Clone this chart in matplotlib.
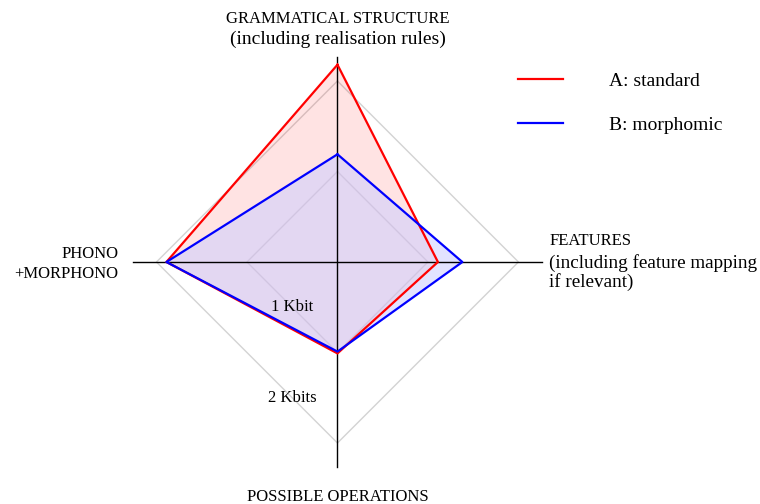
""" radar chart: size of the grammar components, standard vs morphomic """

import matplotlib
matplotlib.use('Agg')
import matplotlib.pyplot as plt

OUT_FN = 'out.png'

## DATA ##
# order: top, right, bottom, left (Kbits)
axes_names = ['grammar', 'features', 'operations', 'phono']
standard = [2.18, 1.11, 1.01, 1.89]
morphomic = [1.19, 1.38, 0.99, 1.89]
grid_levels = [1, 2]
grid_labels = ['1 Kbit', '2 Kbits']
series_labels = ['A: standard', 'B: morphomic']

plt.rcParams['font.family'] = ['Liberation Serif', 'DejaVu Serif']

# direction of each axis (x, y)
DIRS = [(0, 1), (1, 0), (0, -1), (-1, 0)]


def to_xy(vals):
    xs = [d[0] * v for d, v in zip(DIRS, vals)]
    ys = [d[1] * v for d, v in zip(DIRS, vals)]
    return xs + xs[:1], ys + ys[:1]


## PLOT ##
fig = plt.figure(figsize=(7.6, 5.04), dpi=100)
ax = fig.add_axes([0, 0, 1, 1])
ax.set_xlim(-3.729, 4.669)
ax.set_ylim(-2.674, 2.895)
ax.axis('off')

# grid diamonds
for lvl in grid_levels:
    gx, gy = to_xy([lvl] * 4)
    ax.plot(gx, gy, color='#d3d3d3', lw=1, zorder=1)

# axis lines (on top of the fills)
L = 2.26
ax.plot([-L, L], [0, 0], color='black', lw=1, zorder=3.5)
ax.plot([0, 0], [-L, L], color='black', lw=1, zorder=3.5)

# series
fills = [('red', 0.11), ('#ceceff', 0.57)]
for vals, col, fc, lab in [(standard, 'red', fills[0], series_labels[0]),
                           (morphomic, 'blue', fills[1], series_labels[1])]:
    sx, sy = to_xy(vals)
    ax.fill(sx, sy, color=fc[0], alpha=fc[1], lw=0, zorder=3)
    ax.plot(sx, sy, color=col, lw=1.6, label=lab, zorder=4)

# grid labels
ax.text(-0.5, -0.5, grid_labels[0], fontsize=12, ha='center', va='center', zorder=5)
ax.text(-0.5, -1.5, grid_labels[1], fontsize=12, ha='center', va='center', zorder=5)

# axis titles
SC = 12
FS = 14
ax.text(0, 2.69, 'GRAMMATICAL STRUCTURE', fontsize=SC, ha='center', va='center')
ax.text(0, 2.46, '(including realisation rules)', fontsize=FS, ha='center', va='center')
ax.text(2.34, 0.23, 'FEATURES', fontsize=SC, ha='left', va='center')
ax.text(2.34, -0.01, '(including feature mapping', fontsize=13.8, ha='left', va='center')
ax.text(2.34, -0.22, 'if relevant)', fontsize=13.8, ha='left', va='center')
ax.text(-2.42, 0.09, 'PHONO', fontsize=SC, ha='right', va='center')
ax.text(-2.42, -0.13, '+MORPHONO', fontsize=SC, ha='right', va='center')
ax.text(0, -2.6, 'POSSIBLE OPERATIONS', fontsize=SC, ha='center', va='center')

# legend
ax.legend(loc='center left', bbox_to_anchor=(1.995, 1.752), bbox_transform=ax.transData,
          frameon=False, fontsize=FS, handlelength=2.31, handletextpad=2.37,
          labelspacing=1.36, borderpad=0, borderaxespad=0)

plt.savefig(OUT_FN, transparent=False)
